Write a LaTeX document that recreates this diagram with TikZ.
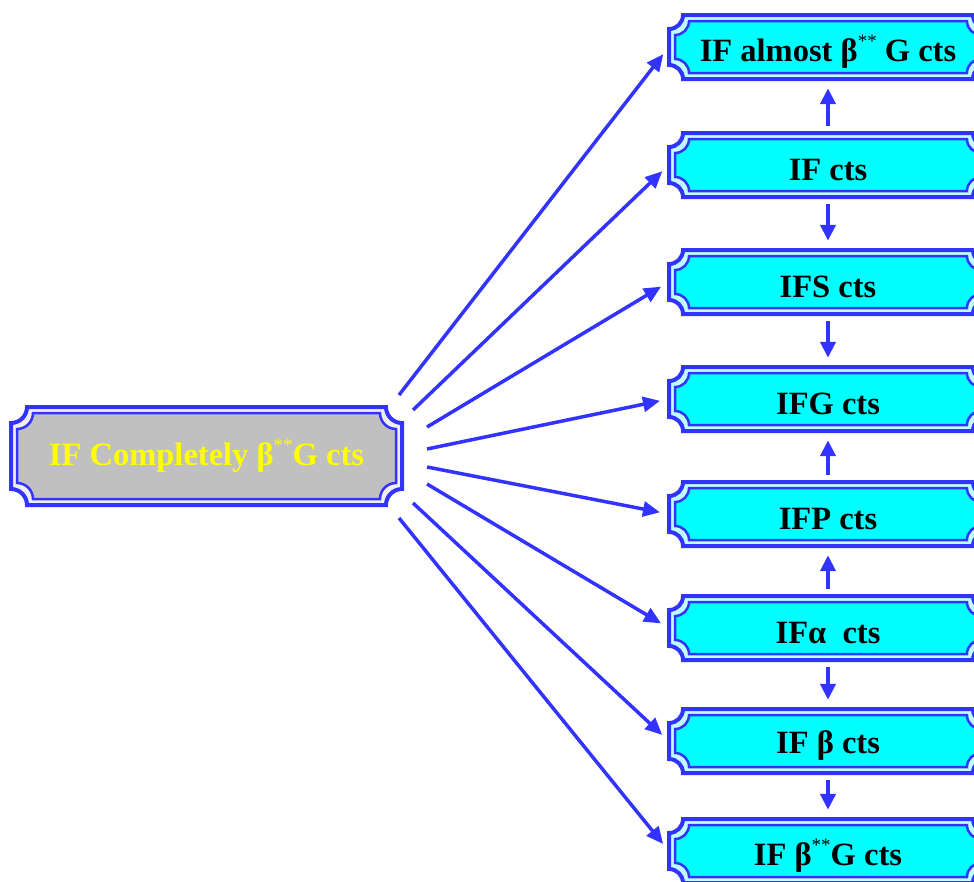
\documentclass[tikz,border=0pt]{standalone}
\usepackage{fontspec}
\setmainfont{Liberation Serif}
\usetikzlibrary{arrows.meta}
\definecolor{myblue}{RGB}{51,51,255}
\definecolor{boxcyan}{RGB}{0,255,255}
\definecolor{boxgray}{RGB}{192,192,192}
\definecolor{txtyellow}{RGB}{255,255,0}
\newcommand\plaque[6]{%
 \pgfmathsetmacro\plqxa{#2}\pgfmathsetmacro\plqya{#3}%
 \pgfmathsetmacro\plqxb{#4}\pgfmathsetmacro\plqyb{#5}%
 \pgfmathsetmacro\plqr{#6}\pgfmathsetmacro\plqk{0.5523*\plqr}%
 \draw[#1] (\plqxa+\plqr,\plqya) -- (\plqxb-\plqr,\plqya)
  .. controls (\plqxb-\plqr,\plqya+\plqk) and (\plqxb-\plqk,\plqya+\plqr) .. (\plqxb,\plqya+\plqr)
  -- (\plqxb,\plqyb-\plqr)
  .. controls (\plqxb-\plqk,\plqyb-\plqr) and (\plqxb-\plqr,\plqyb-\plqk) .. (\plqxb-\plqr,\plqyb)
  -- (\plqxa+\plqr,\plqyb)
  .. controls (\plqxa+\plqr,\plqyb-\plqk) and (\plqxa+\plqk,\plqyb-\plqr) .. (\plqxa,\plqyb-\plqr)
  -- (\plqxa,\plqya+\plqr)
  .. controls (\plqxa+\plqk,\plqya+\plqr) and (\plqxa+\plqr,\plqya+\plqk) .. (\plqxa+\plqr,\plqya)
  -- cycle;}
% #1 fill, #2 x1, #3 y1, #4 x2, #5 y2, #6 radius
\newcommand\fancybox[6]{%
 \plaque{draw=myblue,line width=4pt,fill=#1!25!white}{#2}{#3}{#4}{#5}{#6}%
 \plaque{draw=myblue,line width=2.5pt,fill=#1}{#2+6}{#3+6}{#4-6}{#5-6}{#6}}
\newcommand\dstar{\raisebox{0.42em}{\mdseries\fontsize{19}{19}\selectfont **}}
\newcommand\lowr[1]{\raisebox{-5pt}[\height][\depth]{#1}}
\tikzset{
 txt/.style={font=\fontsize{32.5}{38}\selectfont\bfseries, inner sep=0pt},
 rnode/.style={txt, minimum width=318pt, minimum height=64pt, text=black},
 arr/.style={draw=myblue, line width=3.5pt, -{Triangle[length=17pt,width=15pt]}, shorten >=9pt},
 varr/.style={draw=myblue, line width=4pt, -{Triangle[length=16pt,width=15pt]}, shorten <=7pt, shorten >=9pt}
}
\begin{document}
\begin{tikzpicture}[x=1pt,y=-1pt]
\useasboundingbox (0,0) rectangle (974,881);
\clip (0,0) rectangle (974,881);
% boxes
\fancybox{boxgray}{11}{407}{402}{505}{16}
\foreach \c in {47,165,282,399,514,628,741,851}{
  \fancybox{boxcyan}{669}{\c-32}{987}{\c+32}{14}
}
% text nodes
\node[txt, text=txtyellow, minimum width=391pt, minimum height=98pt] (L) at (206.5,456) {IF Completely β\dstar G cts};
\node[rnode] (n1) at (828,47) {\lowr{IF almost β\dstar\ G cts}};
\node[rnode] (n2) at (828,165) {\lowr{IF cts}};
\node[rnode] (n3) at (828,282) {\lowr{IFS cts}};
\node[rnode] (n4) at (828,399) {\lowr{IFG cts}};
\node[rnode] (n5) at (828,514) {\lowr{IFP cts}};
\node[rnode] (n6) at (828,628) {\lowr{IFα\hspace{0.5em}cts}};
\node[rnode] (n7) at (828,741) {\lowr{IF β cts}};
\node[rnode] (n8) at (828,851) {\lowr{IF β\dstar G cts}};
% fan start points
\coordinate (s1) at (399,395);
\coordinate (s2) at (413,410);
\coordinate (s3) at (427,427);
\coordinate (s4) at (427,449);
\coordinate (s5) at (427,467);
\coordinate (s6) at (427,484);
\coordinate (s7) at (413,503);
\coordinate (s8) at (399,518);
\foreach \i in {1,...,8}{
  \draw[arr] (s\i) -- (n\i.west);
}
% vertical arrows
\draw[varr] (n2.north) -- (n1.south);
\draw[varr] (n2.south) -- (n3.north);
\draw[varr] (n3.south) -- (n4.north);
\draw[varr] (n5.north) -- (n4.south);
\draw[varr] (n6.north) -- (n5.south);
\draw[varr] (n6.south) -- (n7.north);
\draw[varr] (n7.south) -- (n8.north);
\end{tikzpicture}
\end{document}
